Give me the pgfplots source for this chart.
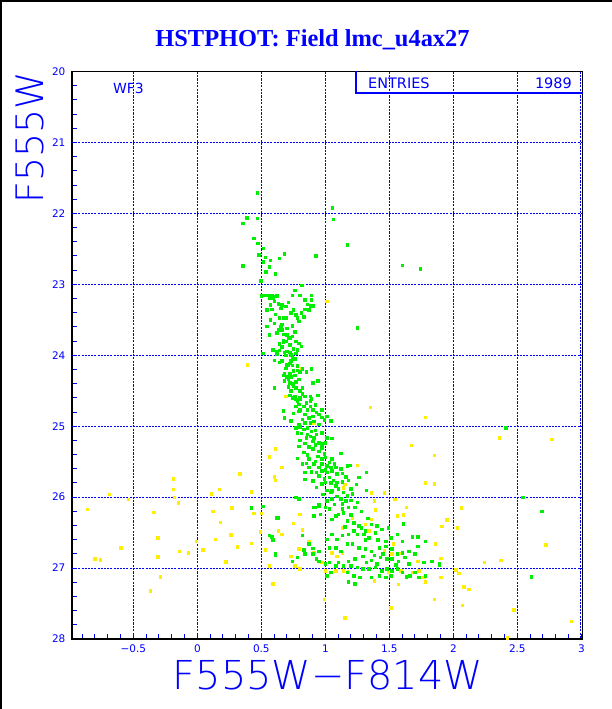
\documentclass[border=0pt]{standalone}
\usepackage{fontspec}
\usepackage{pgfplots}
\pgfplotsset{compat=1.18}
\newfontfamily\thinsans{DejaVu Sans ExtraLight}
\newfontfamily\dejavu{DejaVu Sans}
\newfontfamily\libserif{Liberation Serif}
\definecolor{pawblue}{RGB}{0,0,255}
\definecolor{pawgreen}{RGB}{0,238,0}
\definecolor{pawyellow}{RGB}{255,238,0}
\tikzset{pawgrid/.style={draw=pawblue, line width=1bp, dash pattern=on 2bp off 1.2bp},
         pawvgrid/.style={draw=pawblue, line width=1.4bp, dash pattern=on 2.2bp off 1.2bp}}
\begin{document}
\begin{tikzpicture}[x=1bp,y=1bp]
\fill[white] (0,0) rectangle (612,709);
\begin{axis}[
  at={(71.9bp,70bp)}, anchor=south west, scale only axis,
  width=510.7bp, height=567.5bp,
  xmin=-0.98, xmax=3.01, ymin=20, ymax=28, y dir=reverse,
  axis line style={black, line width=1.2bp},
  xtick={-0.5,0,0.5,1,1.5,2,2.5,3},
  xticklabels={−0.5,0,0.5,1,1.5,2,2.5,3},
  ytick={20,21,22,23,24,25,26,27,28},
  yticklabels={20,21,22,23,24,25,26,27,28},
  minor xtick={-0.9,-0.8,-0.7,-0.6,-0.4,-0.3,-0.2,-0.1,0.1,0.2,0.3,0.4,0.6,0.7,0.8,0.9,1.1,1.2,1.3,1.4,1.6,1.7,1.8,1.9,2.1,2.2,2.3,2.4,2.6,2.7,2.8,2.9},
  minor ytick={20.2,20.4,20.6,20.8,21.2,21.4,21.6,21.8,22.2,22.4,22.6,22.8,23.2,23.4,23.6,23.8,24.2,24.4,24.6,24.8,25.2,25.4,25.6,25.8,26.2,26.4,26.6,26.8,27.2,27.4,27.6,27.8},
  tick pos=left, tick align=inside,
  major tick length=5.5bp, minor tick length=5bp,
  tick style={pawblue, line width=1bp},
  xticklabel style={font=\dejavu\fontsize{10.5}{10.5}\selectfont, text=pawblue, yshift=-2bp},
  yticklabel style={font=\dejavu\fontsize{10.5}{10.5}\selectfont, text=pawblue, xshift=-3bp},
  clip=true,
]
% grid lines
\draw[pawvgrid] (axis cs:-0.5,20) -- (axis cs:-0.5,28);
\draw[pawvgrid] (axis cs:0,20) -- (axis cs:0,28);
\draw[pawvgrid] (axis cs:0.5,20) -- (axis cs:0.5,28);
\draw[pawvgrid] (axis cs:1,20) -- (axis cs:1,28);
\draw[pawvgrid] (axis cs:1.5,20) -- (axis cs:1.5,28);
\draw[pawvgrid] (axis cs:2,20) -- (axis cs:2,28);
\draw[pawvgrid] (axis cs:2.5,20) -- (axis cs:2.5,28);
\draw[pawvgrid] (axis cs:2.995,20) -- (axis cs:2.995,28);
\draw[pawgrid] (axis cs:-0.98,21) -- (axis cs:3.01,21);
\draw[pawgrid] (axis cs:-0.98,22) -- (axis cs:3.01,22);
\draw[pawgrid] (axis cs:-0.98,23) -- (axis cs:3.01,23);
\draw[pawgrid] (axis cs:-0.98,24) -- (axis cs:3.01,24);
\draw[pawgrid] (axis cs:-0.98,25) -- (axis cs:3.01,25);
\draw[pawgrid] (axis cs:-0.98,26) -- (axis cs:3.01,26);
\draw[pawgrid] (axis cs:-0.98,27) -- (axis cs:3.01,27);
% field / non-member stars (yellow)
\addplot[only marks, mark=square*, mark size=1.25bp, color=pawyellow] coordinates {
(-0.69,25.96) (-0.54,26.03) (-0.86,26.17) (-0.80,26.87) (-0.76,26.88) (-0.60,26.71)
(-0.34,26.21) (-0.31,26.57) (-0.31,26.84) (-0.29,27.12) (-0.37,27.32) (-0.19,25.74)
(-0.19,25.89) (-0.18,26.00) (-0.15,26.08) (-0.14,26.76) (-0.07,26.78) (-0.01,26.62)
(0.04,26.74) (0.11,25.95) (0.17,25.89) (0.12,26.20) (0.18,26.35) (0.14,26.59)
(0.26,26.53) (0.27,26.15) (0.31,26.70) (0.22,26.91) (0.33,25.67) (0.42,25.92)
(0.42,26.65) (0.44,26.23) (0.49,26.49) (0.50,26.23) (0.53,26.74) (0.56,26.97)
(0.59,27.22) (0.56,25.43) (0.60,25.71) (0.61,25.32) (0.61,25.76) (0.63,26.47)
(1.01,23.24) (0.69,24.58) (0.81,24.18) (0.39,24.13) (1.35,24.73) (0.66,25.58)
(0.91,24.96) (1.25,25.55) (1.15,25.82) (1.14,25.87) (1.36,25.94) (1.46,25.94)
(1.38,26.05) (1.54,26.03) (1.63,26.14) (1.67,25.27)
(0.66,26.52) (0.75,26.37) (0.82,26.46) (0.73,26.83) (0.79,26.73) (0.87,26.62)
(0.91,26.78) (0.97,26.92) (1.05,26.78) (1.09,26.83) (1.13,26.78) (1.13,26.43)
(1.21,26.29) (1.31,26.38) (1.39,26.18) (1.36,26.31) (1.34,26.47) (1.46,26.75)
(1.52,26.80) (1.59,26.79) (1.53,26.66) (1.56,26.26) (1.08,27.04) (1.14,27.04)
(1.18,27.05) (1.00,27.04) (0.80,27.01) (0.76,26.97) (1.44,27.04) (1.59,27.04)
(1.68,27.06) (1.73,27.04) (1.77,27.13) (1.78,27.19) (1.57,27.23) (1.90,27.13)
(1.90,26.86) (1.86,26.66) (0.99,27.44) (1.38,27.18) (0.80,26.24) (1.49,27.06)
(1.78,24.87) (1.85,25.41) (1.78,25.80) (1.85,25.81) (2.36,25.16) (2.77,25.18)
(1.61,26.25) (2.06,26.15) (1.95,26.32) (1.91,26.41) (2.03,26.43) (2.72,26.67)
(1.72,26.90) (2.37,26.89) (2.24,26.92) (2.04,27.07) (2.02,27.02) (2.08,27.26)
(2.12,27.30) (2.07,27.52) (2.47,27.59) (2.92,27.75) (2.42,27.98) (1.85,27.44)
(1.51,27.56) (1.15,27.70)
};
% cluster members (green)
\addplot[only marks, mark=square*, mark size=1.25bp, color=pawgreen] coordinates {
(0.466,21.71) (1.053,21.92) (1.06,22.08) (0.355,22.14) (0.386,22.06) (0.466,22.07)
(0.44,22.35) (0.47,22.42) (0.513,22.49) (0.677,22.57) (0.48,22.58) (0.926,22.60)
(0.53,22.62) (0.64,22.63) (0.57,22.66) (0.513,22.68) (0.355,22.74) (0.56,22.75)
(0.535,22.82) (0.61,22.85) (0.495,22.95) (1.17,22.44) (1.60,22.73) (1.74,22.78)
(1.25,23.61) (0.815,23.01) (0.76,23.08)
(0.50,23.16) (0.52,23.15) (0.55,23.15) (0.58,23.15) (0.61,23.17) (0.56,23.19)
(0.59,23.19) (0.62,23.16) (0.74,23.15) (0.80,23.15) (0.89,23.15) (0.89,23.22)
(0.84,23.22) (0.66,23.29) (0.69,23.31) (0.65,23.34) (0.58,23.35) (0.54,23.36)
(0.75,23.36) (0.84,23.35) (0.87,23.36) (0.88,23.30) (0.90,23.30) (0.77,23.43)
(0.67,23.47) (0.64,23.47) (0.69,23.47) (0.78,23.47) (0.83,23.46) (0.57,23.50)
(0.79,23.52) (0.66,23.56) (0.54,23.59) (0.70,23.62) (0.65,23.59) (0.63,23.64)
(0.66,23.64) (0.67,23.70) (0.70,23.71) (0.76,23.67) (0.56,23.71) (0.72,23.75)
(0.71,23.76) (0.67,23.79) (0.69,23.80) (0.67,23.81) (0.77,23.80) (0.72,23.85)
(0.81,23.87) (0.75,23.91) (0.78,23.92) (0.64,23.93) (0.62,23.95) (0.59,23.92)
(0.62,23.98) (0.70,23.94) (0.72,23.96) (0.77,23.97) (0.51,23.97) (0.69,24.00)
(0.73,23.99) (0.60,24.07) (0.66,24.08) (0.73,24.08) (0.74,24.02) (0.76,24.05)
(0.71,24.13) (0.70,24.13) (0.74,24.14) (0.78,24.15) (0.72,24.11) (0.78,24.21)
(0.89,24.19) (0.80,24.23) (0.85,24.23) (0.82,24.19) (0.68,24.26) (0.72,24.25)
(0.67,24.28) (0.76,24.28) (0.71,24.33) (0.73,24.30) (0.94,24.36) (0.90,24.39)
(0.77,24.37) (0.72,24.39) (0.71,24.44) (0.75,24.43) (0.77,24.46) (0.82,24.46)
(0.60,24.46) (0.72,24.56) (0.76,24.58) (0.74,24.60) (0.80,24.60) (0.84,24.58)
(0.88,24.58) (0.89,24.61) (0.94,24.56) (0.78,24.65) (0.80,24.62) (0.88,24.64)
(0.79,24.69) (0.77,24.72) (0.83,24.72) (0.88,24.72) (0.80,24.77) (0.86,24.77)
(0.97,24.77) (0.90,24.77) (0.67,24.78)
(0.79,24.79) (0.84,24.83) (0.87,24.88) (0.90,24.86) (0.95,24.83) (0.97,24.87)
(1.01,24.86) (1.04,24.92) (0.73,24.92) (0.82,24.90) (0.84,24.95) (0.91,24.93)
(0.95,24.97) (0.79,24.97) (0.68,24.88) (0.77,25.02) (0.80,25.01) (0.83,25.04)
(0.86,25.02) (0.89,25.07) (0.92,25.06) (0.97,25.09) (0.78,25.09) (0.81,25.10)
(0.86,25.11) (0.88,25.14) (0.93,25.11) (1.01,25.16) (1.05,25.17) (0.80,25.20)
(0.90,25.21) (0.95,25.23) (0.84,25.24) (1.00,25.23) (0.92,25.26) (0.97,25.25)
(0.79,25.28) (0.90,25.32) (0.95,25.35) (0.99,25.39) (0.83,25.37) (1.00,25.44)
(0.97,25.46) (0.92,25.49) (0.87,25.46) (0.78,25.45) (1.12,25.38) (1.03,25.51)
(1.07,25.53) (0.97,25.53) (1.01,25.56) (1.08,25.58) (0.85,25.52) (0.82,25.53)
(0.87,25.58) (0.91,25.53) (1.04,25.58) (1.17,25.56) (1.19,25.55) (0.84,25.65)
(0.89,25.64) (0.93,25.65) (0.97,25.63) (1.01,25.65) (1.05,25.63) (1.09,25.67)
(1.13,25.66) (1.16,25.71) (0.95,25.70) (0.99,25.74) (1.03,25.72) (1.06,25.76)
(0.90,25.77) (0.84,25.75) (1.26,25.72) (1.32,25.65) (1.18,25.76) (1.00,25.79)
(1.04,25.80) (1.09,25.79) (0.93,25.86) (1.01,25.90) (1.05,25.91) (1.10,25.88)
(1.20,25.88) (1.21,25.95) (1.14,25.93) (1.04,25.93) (1.17,25.98) (1.32,25.90)
(0.79,26.02) (1.01,26.05) (1.05,26.02) (1.12,26.02) (1.16,26.05) (1.20,26.04)
(1.25,26.07) (0.95,26.12) (1.00,26.14) (1.03,26.16) (1.13,26.09) (1.18,26.14)
(1.23,26.14) (1.13,26.16) (0.91,26.14)
(0.63,26.29) (0.59,26.59) (0.61,26.80) (0.74,26.90) (0.78,26.85) (0.84,26.80)
(0.82,26.54) (0.87,26.66) (0.90,26.72) (0.90,26.80) (0.95,26.76) (0.93,26.87)
(1.00,26.94) (1.03,26.92) (1.05,26.31) (1.08,26.26) (1.10,26.24) (1.14,26.22)
(1.17,26.33) (1.22,26.36) (1.26,26.40) (1.28,26.43) (1.31,26.47) (1.36,26.38)
(1.22,26.47) (1.18,26.52) (1.25,26.52) (1.30,26.52) (1.34,26.57) (1.39,26.50)
(1.44,26.45) (1.49,26.43) (1.13,26.54) (1.09,26.59) (1.05,26.52) (1.01,26.59)
(1.03,26.71) (1.08,26.71) (1.12,26.76) (1.17,26.66) (1.21,26.66) (1.26,26.71)
(1.31,26.73) (1.36,26.76) (1.42,26.71) (1.47,26.69) (1.52,26.73) (1.56,26.80)
(1.60,26.78) (1.65,26.76) (1.70,26.80) (1.68,26.56) (1.72,26.56) (1.72,26.69)
(1.78,26.62) (1.77,26.92) (1.83,26.90) (1.89,26.94) (1.61,26.38) (1.56,26.52)
(1.51,26.57) (1.47,26.62) (1.43,26.85) (1.48,26.87) (1.52,26.87) (1.57,26.90)
(1.62,26.85) (1.65,26.94) (1.18,26.90) (1.23,26.87) (1.29,26.83) (1.32,26.92)
(1.36,26.89) (1.40,26.94) (1.10,26.92) (1.08,26.97) (1.14,26.97) (1.20,26.97)
(1.25,26.99) (1.29,27.01) (1.34,27.01) (1.39,26.99) (1.44,27.04) (1.48,27.01)
(1.52,27.04) (1.56,27.01) (1.60,27.06) (1.63,27.12) (1.66,27.11) (1.70,27.06)
(1.73,27.13) (1.78,27.11) (1.17,27.06) (1.22,27.11) (1.27,27.13) (1.36,27.13)
(1.42,27.11) (1.47,27.13) (1.18,27.19) (1.23,27.22) (1.51,27.11) (1.01,27.11)
(1.04,27.06) (0.95,26.90) (0.95,26.10) (0.96,26.24) (0.91,26.26) (0.92,26.14)
(0.42,26.15) (0.51,26.13) (0.62,26.29) (0.56,26.54) (0.58,26.56) (0.59,26.60)
(0.61,26.81) (2.41,25.02) (2.54,26.00) (2.69,26.20) (2.61,27.12) (1.89,26.95)
(1.61,26.37) (0.77,26.00) (0.83,26.74)
(0.60,23.24) (0.63,23.27) (0.71,23.25) (0.57,23.29) (0.86,23.28) (0.73,23.40)
(0.61,23.42) (0.81,23.40) (0.60,23.55) (0.74,23.58) (0.62,23.68) (0.74,23.73)
(0.64,23.84) (0.79,23.83) (0.66,23.88) (0.68,23.96) (0.64,24.10) (0.69,24.18)
(0.75,24.22) (0.70,24.30) (0.79,24.34) (0.74,24.40) (0.68,24.36) (0.80,24.50)
(0.73,24.50) (0.82,24.54) (0.77,24.62) (0.85,24.67) (0.92,24.70) (0.75,24.82)
(0.93,24.80) (0.88,24.95) (0.99,24.91) (0.85,25.16) (0.91,25.16) (0.87,25.29)
(0.97,25.30) (0.86,25.40) (0.94,25.42) (1.05,25.46) (0.95,25.58) (1.00,25.61)
(1.12,25.60) (0.97,25.81) (1.08,25.84) (1.13,25.78) (0.98,25.96) (1.09,25.99)
(1.24,25.82) (1.07,26.10) (1.28,26.20) (1.20,26.25) (1.33,26.30) (1.40,26.40)
(1.15,26.42) (1.41,26.60) (1.45,26.80) (1.55,26.95) (1.31,26.60) (1.60,26.62)
(1.38,26.82)
};
\end{axis}
% outer frame (left and top edges)
\fill[black] (0,0) rectangle (2.4,709);
\fill[black] (0,707.3) rectangle (612,709);
% title
\node[font=\libserif\bfseries\fontsize{24.5}{24.5}\selectfont, text=pawblue, anchor=base, inner sep=0pt] at (312.5,662) {HSTPHOT: Field lmc\_u4ax27};
% axis titles
\node[font=\thinsans\fontsize{40}{40}\selectfont, text=pawblue, anchor=base, inner sep=0pt] at (328,19.7) {F555W−F814W};
\node[font=\thinsans\fontsize{38}{38}\selectfont, text=pawblue, anchor=base east, rotate=90, inner sep=0pt] at (43.3,637) {F555W};
% text inside the frame
\node[font=\dejavu\fontsize{14}{14}\selectfont, text=pawblue, anchor=base, inner sep=0pt] at (128.5,615.5) {WF3};
\draw[pawblue, line width=1.2bp] (356,637.5) -- (356,616) -- (582.6,616);
\node[font=\dejavu\fontsize{14.5}{14.5}\selectfont, text=pawblue, anchor=base west, inner sep=0pt] at (368,620) {ENTRIES};
\node[font=\dejavu\fontsize{14.5}{14.5}\selectfont, text=pawblue, anchor=base east, inner sep=0pt] at (572,620) {1989};
\end{tikzpicture}
\end{document}
